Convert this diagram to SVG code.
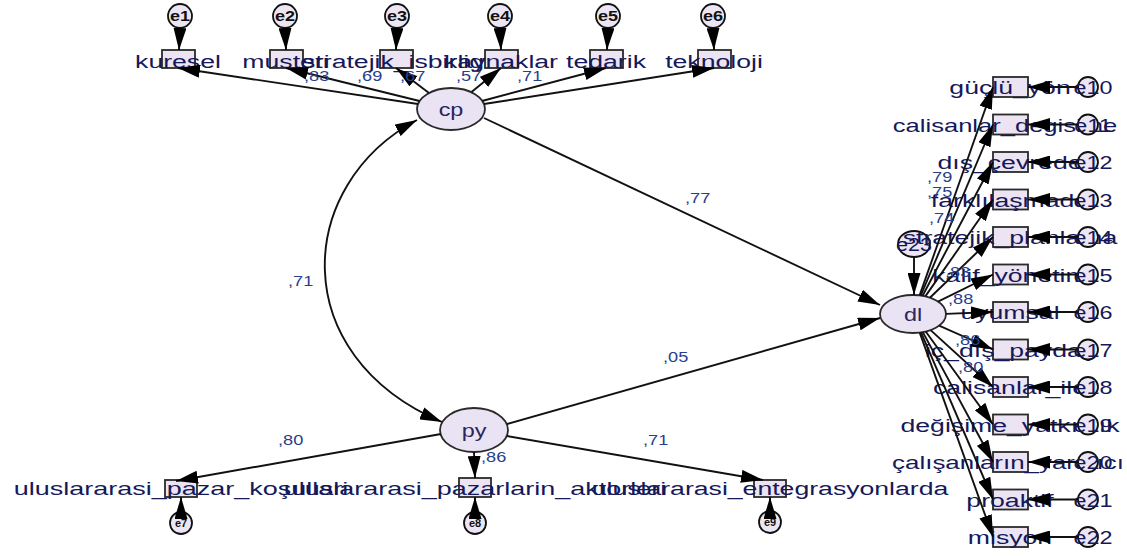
<svg xmlns="http://www.w3.org/2000/svg" width="1127" height="556" viewBox="0 0 1127 556">
<style>
.bg{fill:#ffffff}
.lat{fill:#e9e3f3;stroke:#2a2a2a;stroke-width:1.8}
.obs{fill:#ece4f3;stroke:#2a2a2a;stroke-width:1.8}
.err{fill:#ece6f4;stroke:#111;stroke-width:1.8}
.t{font-family:"Liberation Sans",Arial,sans-serif;font-size:18px;fill:#15195a;text-anchor:middle}
.lt{font-family:"Liberation Sans",Arial,sans-serif;font-size:18px;fill:#2a2460;text-anchor:middle}
.et{font-family:"Liberation Sans",Arial,sans-serif;font-size:15px;font-weight:bold;fill:#111;text-anchor:middle}
.n{font-family:"Liberation Sans",Arial,sans-serif;font-size:14px;fill:#27408b;text-anchor:start}
.c line,.c path{stroke:#111;stroke-width:1.9;fill:none}
</style>
<defs>
<marker id="ah" markerUnits="userSpaceOnUse" markerWidth="22" markerHeight="13" refX="22" refY="6.5" orient="auto"><path d="M0,0 L22,6.5 L0,13 z" fill="#000"/></marker>
<marker id="ah2" markerUnits="userSpaceOnUse" markerWidth="22" markerHeight="13" refX="22" refY="6.5" orient="auto-start-reverse"><path d="M0,0 L22,6.5 L0,13 z" fill="#000"/></marker>
</defs>
<rect class="bg" x="0" y="0" width="1127" height="556"/>

<!-- latent variables -->
<g id="cp"><ellipse class="lat" cx="451" cy="109" rx="34" ry="21"/><text class="lt" transform="matrix(1.3 0 0 1 451 116)">cp</text></g>
<g id="py"><ellipse class="lat" cx="474" cy="430" rx="34" ry="22"/><text class="lt" transform="matrix(1.3 0 0 1 474 437)">py</text></g>
<g id="dl"><ellipse class="lat" cx="913" cy="314" rx="33" ry="19"/><text class="lt" transform="matrix(1.3 0 0 1 913 321)">dl</text></g>
<g id="e23"><ellipse class="err" cx="914" cy="244" rx="16" ry="13"/><text class="t" transform="matrix(1.2 0 0 1 914 251)">e23</text></g>

<!-- top indicators -->
<g id="kuresel"><rect class="obs" x="162" y="50" width="33" height="18"/><text class="t" transform="matrix(1.48 0 0 1 178 68)">kuresel</text></g>
<g id="musteri"><rect class="obs" x="270" y="50" width="33" height="18"/><text class="t" transform="matrix(1.48 0 0 1 286 68)">musteri</text></g>
<g id="stratejik_isbirligi"><rect class="obs" x="380" y="50" width="33" height="18"/><text class="t" transform="matrix(1.48 0 0 1 396 68)">stratejik_isbirligi</text></g>
<g id="kaynaklar"><rect class="obs" x="485" y="50" width="33" height="18"/><text class="t" transform="matrix(1.48 0 0 1 501 68)">kaynaklar</text></g>
<g id="tedarik"><rect class="obs" x="590" y="50" width="33" height="18"/><text class="t" transform="matrix(1.48 0 0 1 606 68)">tedarik</text></g>
<g id="teknoloji"><rect class="obs" x="698" y="50" width="33" height="18"/><text class="t" transform="matrix(1.48 0 0 1 714 68)">teknoloji</text></g>

<g id="e1"><circle class="err" cx="180" cy="16" r="12"/><text class="et" transform="matrix(1.2 0 0 1 180 21)">e1</text></g>
<g id="e2"><circle class="err" cx="285" cy="16" r="12"/><text class="et" transform="matrix(1.2 0 0 1 285 21)">e2</text></g>
<g id="e3"><circle class="err" cx="397" cy="16" r="12"/><text class="et" transform="matrix(1.2 0 0 1 397 21)">e3</text></g>
<g id="e4"><circle class="err" cx="500" cy="16" r="12"/><text class="et" transform="matrix(1.2 0 0 1 500 21)">e4</text></g>
<g id="e5"><circle class="err" cx="608" cy="16" r="12"/><text class="et" transform="matrix(1.2 0 0 1 608 21)">e5</text></g>
<g id="e6"><circle class="err" cx="713" cy="16" r="12"/><text class="et" transform="matrix(1.2 0 0 1 713 21)">e6</text></g>

<!-- bottom indicators -->
<g id="uluslararasi_pazar_kosullari"><rect class="obs" x="165" y="480" width="32" height="17"/><text class="t" transform="matrix(1.5 0 0 1 181 495)">uluslararasi_pazar_koşullari</text></g>
<g id="uluslararasi_pazarlarin_aktorleri"><rect class="obs" x="459" y="478" width="32" height="19"/><text class="t" transform="matrix(1.5 0 0 1 475 495)">uluslararasi_pazarlarin_aktorleri</text></g>
<g id="uluslararasi_entegrasyonlarda"><rect class="obs" x="754" y="480" width="32" height="17"/><text class="t" transform="matrix(1.48 0 0 1 770 495)">uluslararasi_entegrasyonlarda</text></g>
<g id="e7"><circle class="err" cx="181" cy="523" r="11"/><text class="et" style="font-size:11px" x="181" y="527">e7</text></g>
<g id="e8"><circle class="err" cx="475" cy="523" r="11"/><text class="et" style="font-size:11px" x="475" y="527">e8</text></g>
<g id="e9"><circle class="err" cx="770" cy="522" r="11"/><text class="et" style="font-size:11px" x="770" y="526">e9</text></g>

<!-- right indicators -->
<g id="r0"><rect class="obs" x="993" y="77" width="35" height="20"/><text class="t" transform="matrix(1.48 0 0 1 1010 94)">güçlü_yön</text></g>
<g id="r1"><rect class="obs" x="993" y="114.5" width="35" height="20"/><text class="t" transform="matrix(1.42 0 0 1 1005 131.5)">calisanlar_degisime</text></g>
<g id="r2"><rect class="obs" x="993" y="152" width="35" height="20"/><text class="t" transform="matrix(1.48 0 0 1 1010 169)">dış_çevrede</text></g>
<g id="r3"><rect class="obs" x="993" y="189.5" width="35" height="20"/><text class="t" transform="matrix(1.48 0 0 1 1010 206.5)">farklılaşmada</text></g>
<g id="r4"><rect class="obs" x="993" y="227" width="35" height="20"/><text class="t" transform="matrix(1.48 0 0 1 1010 244)">stratejik_planlama</text></g>
<g id="r5"><rect class="obs" x="993" y="264.5" width="35" height="20"/><text class="t" transform="matrix(1.48 0 0 1 1010 281.5)">kalif_yönetim</text></g>
<g id="r6"><rect class="obs" x="993" y="302" width="35" height="20"/><text class="t" transform="matrix(1.48 0 0 1 1010 319)">uyumsal</text></g>
<g id="r7"><rect class="obs" x="993" y="339.5" width="35" height="20"/><text class="t" transform="matrix(1.48 0 0 1 1010 356.5)">iç_dış_paydaş</text></g>
<g id="r8"><rect class="obs" x="993" y="377" width="35" height="20"/><text class="t" transform="matrix(1.48 0 0 1 1010 394)">calisanlar_ile</text></g>
<g id="r9"><rect class="obs" x="993" y="414.5" width="35" height="20"/><text class="t" transform="matrix(1.48 0 0 1 1010 431.5)">değişime_yatkınlık</text></g>
<g id="r10"><rect class="obs" x="993" y="452" width="35" height="20"/><text class="t" transform="matrix(1.44 0 0 1 1008 469)">çalışanların_yaratıcı</text></g>
<g id="r11"><rect class="obs" x="993" y="489.5" width="35" height="20"/><text class="t" transform="matrix(1.48 0 0 1 1010 506.5)">proaktif</text></g>
<g id="r12"><rect class="obs" x="993" y="527" width="35" height="20"/><text class="t" transform="matrix(1.48 0 0 1 1010 544)">misyon</text></g>

<g id="e10"><circle class="err" cx="1088" cy="87" r="10"/><text class="t" transform="matrix(1.3 0 0 1 1093 94)">e10</text></g>
<g id="e11"><circle class="err" cx="1088" cy="124.5" r="10"/><text class="t" transform="matrix(1.3 0 0 1 1093 131.5)">e11</text></g>
<g id="e12"><circle class="err" cx="1088" cy="162" r="10"/><text class="t" transform="matrix(1.3 0 0 1 1093 169)">e12</text></g>
<g id="e13"><circle class="err" cx="1088" cy="199.5" r="10"/><text class="t" transform="matrix(1.3 0 0 1 1093 206.5)">e13</text></g>
<g id="e14"><circle class="err" cx="1088" cy="237" r="10"/><text class="t" transform="matrix(1.3 0 0 1 1093 244)">e14</text></g>
<g id="e15"><circle class="err" cx="1088" cy="274.5" r="10"/><text class="t" transform="matrix(1.3 0 0 1 1093 281.5)">e15</text></g>
<g id="e16"><circle class="err" cx="1088" cy="312" r="10"/><text class="t" transform="matrix(1.3 0 0 1 1093 319)">e16</text></g>
<g id="e17"><circle class="err" cx="1088" cy="349.5" r="10"/><text class="t" transform="matrix(1.3 0 0 1 1093 356.5)">e17</text></g>
<g id="e18"><circle class="err" cx="1088" cy="387" r="10"/><text class="t" transform="matrix(1.3 0 0 1 1093 394)">e18</text></g>
<g id="e19"><circle class="err" cx="1088" cy="424.5" r="10"/><text class="t" transform="matrix(1.3 0 0 1 1093 431.5)">e19</text></g>
<g id="e20"><circle class="err" cx="1088" cy="462" r="10"/><text class="t" transform="matrix(1.3 0 0 1 1093 469)">e20</text></g>
<g id="e21"><circle class="err" cx="1088" cy="499.5" r="10"/><text class="t" transform="matrix(1.3 0 0 1 1093 506.5)">e21</text></g>
<g id="e22"><circle class="err" cx="1088" cy="537" r="10"/><text class="t" transform="matrix(1.3 0 0 1 1093 544)">e22</text></g>

<!-- connectors -->
<g id="connectors" class="c">
<line x1="418" y1="104" x2="178" y2="68" marker-end="url(#ah)"/>
<line x1="419.5" y1="101" x2="286" y2="68" marker-end="url(#ah)"/>
<line x1="429" y1="93" x2="396" y2="68" marker-end="url(#ah)"/>
<line x1="471.5" y1="92" x2="501" y2="68" marker-end="url(#ah)"/>
<line x1="482" y1="101" x2="606" y2="68" marker-end="url(#ah)"/>
<line x1="484" y1="104" x2="714" y2="68" marker-end="url(#ah)"/>
<line x1="180" y1="28" x2="179" y2="50" marker-end="url(#ah)"/>
<line x1="285" y1="28" x2="286" y2="50" marker-end="url(#ah)"/>
<line x1="397" y1="28" x2="396" y2="50" marker-end="url(#ah)"/>
<line x1="500" y1="28" x2="501" y2="50" marker-end="url(#ah)"/>
<line x1="608" y1="28" x2="607" y2="50" marker-end="url(#ah)"/>
<line x1="713" y1="28" x2="714" y2="50" marker-end="url(#ah)"/>
<path d="M417,120 C295,185 285,355 442,422" marker-start="url(#ah2)" marker-end="url(#ah2)"/>
<line x1="484" y1="118" x2="880" y2="305" marker-end="url(#ah)"/>
<line x1="507" y1="424" x2="880" y2="318" marker-end="url(#ah)"/>
<line x1="441" y1="434" x2="176" y2="481" marker-end="url(#ah)"/>
<line x1="474" y1="452" x2="475" y2="478" marker-end="url(#ah)"/>
<line x1="507" y1="436" x2="763" y2="480" marker-end="url(#ah)"/>
<line x1="181" y1="512" x2="181" y2="497" marker-end="url(#ah)"/>
<line x1="475" y1="512" x2="475" y2="497" marker-end="url(#ah)"/>
<line x1="770" y1="511" x2="770" y2="497" marker-end="url(#ah)"/>
<line x1="914" y1="257" x2="914" y2="295" marker-end="url(#ah)"/>
<line x1="919.6" y1="295.4" x2="993" y2="87" marker-end="url(#ah)"/>
<line x1="920.8" y1="295.5" x2="993" y2="124.5" marker-end="url(#ah)"/>
<line x1="922.6" y1="295.8" x2="993" y2="162" marker-end="url(#ah)"/>
<line x1="925.3" y1="296.4" x2="993" y2="199.5" marker-end="url(#ah)"/>
<line x1="929.9" y1="297.7" x2="993" y2="237" marker-end="url(#ah)"/>
<line x1="938" y1="301.6" x2="993" y2="274.5" marker-end="url(#ah)"/>
<line x1="946" y1="313.9" x2="993" y2="312" marker-end="url(#ah)"/>
<line x1="939.1" y1="325.6" x2="993" y2="349.5" marker-end="url(#ah)"/>
<line x1="930.6" y1="330.1" x2="993" y2="387" marker-end="url(#ah)"/>
<line x1="925.7" y1="331.5" x2="993" y2="424.5" marker-end="url(#ah)"/>
<line x1="922.8" y1="332.1" x2="993" y2="462" marker-end="url(#ah)"/>
<line x1="921" y1="332.4" x2="993" y2="499.5" marker-end="url(#ah)"/>
<line x1="919.7" y1="332.6" x2="993" y2="537" marker-end="url(#ah)"/>
<line x1="1078" y1="87" x2="1028" y2="87" marker-end="url(#ah)"/>
<line x1="1078" y1="124.5" x2="1028" y2="124.5" marker-end="url(#ah)"/>
<line x1="1078" y1="162" x2="1028" y2="162" marker-end="url(#ah)"/>
<line x1="1078" y1="199.5" x2="1028" y2="199.5" marker-end="url(#ah)"/>
<line x1="1078" y1="237" x2="1028" y2="237" marker-end="url(#ah)"/>
<line x1="1078" y1="274.5" x2="1028" y2="274.5" marker-end="url(#ah)"/>
<line x1="1078" y1="312" x2="1028" y2="312" marker-end="url(#ah)"/>
<line x1="1078" y1="349.5" x2="1028" y2="349.5" marker-end="url(#ah)"/>
<line x1="1078" y1="387" x2="1028" y2="387" marker-end="url(#ah)"/>
<line x1="1078" y1="424.5" x2="1028" y2="424.5" marker-end="url(#ah)"/>
<line x1="1078" y1="462" x2="1028" y2="462" marker-end="url(#ah)"/>
<line x1="1078" y1="499.5" x2="1028" y2="499.5" marker-end="url(#ah)"/>
<line x1="1078" y1="537" x2="1028" y2="537" marker-end="url(#ah)"/>
</g>

<!-- coefficient labels -->
<g id="coefficients">
<text class="n" transform="matrix(1.3 0 0 1 304 81)">,83</text>
<text class="n" transform="matrix(1.3 0 0 1 357 81)">,69</text>
<text class="n" transform="matrix(1.3 0 0 1 400 81)">,67</text>
<text class="n" transform="matrix(1.3 0 0 1 456 81)">,57</text>
<text class="n" transform="matrix(1.3 0 0 1 517 81)">,71</text>
<text class="n" transform="matrix(1.3 0 0 1 685 203)">,77</text>
<text class="n" transform="matrix(1.3 0 0 1 288 286)">,71</text>
<text class="n" transform="matrix(1.3 0 0 1 663 362)">,05</text>
<text class="n" transform="matrix(1.3 0 0 1 278 445)">,80</text>
<text class="n" transform="matrix(1.3 0 0 1 481 462)">,86</text>
<text class="n" transform="matrix(1.3 0 0 1 643 445)">,71</text>
<text class="n" transform="matrix(1.3 0 0 1 927 182)">,79</text>
<text class="n" transform="matrix(1.3 0 0 1 927 197)">,75</text>
<text class="n" transform="matrix(1.3 0 0 1 929 223)">,74</text>
<text class="n" transform="matrix(1.3 0 0 1 945 277)">,83</text>
<text class="n" transform="matrix(1.3 0 0 1 948 304)">,88</text>
<text class="n" transform="matrix(1.3 0 0 1 955 345)">,86</text>
<text class="n" transform="matrix(1.3 0 0 1 958 372)">,80</text>
</g>
</svg>
